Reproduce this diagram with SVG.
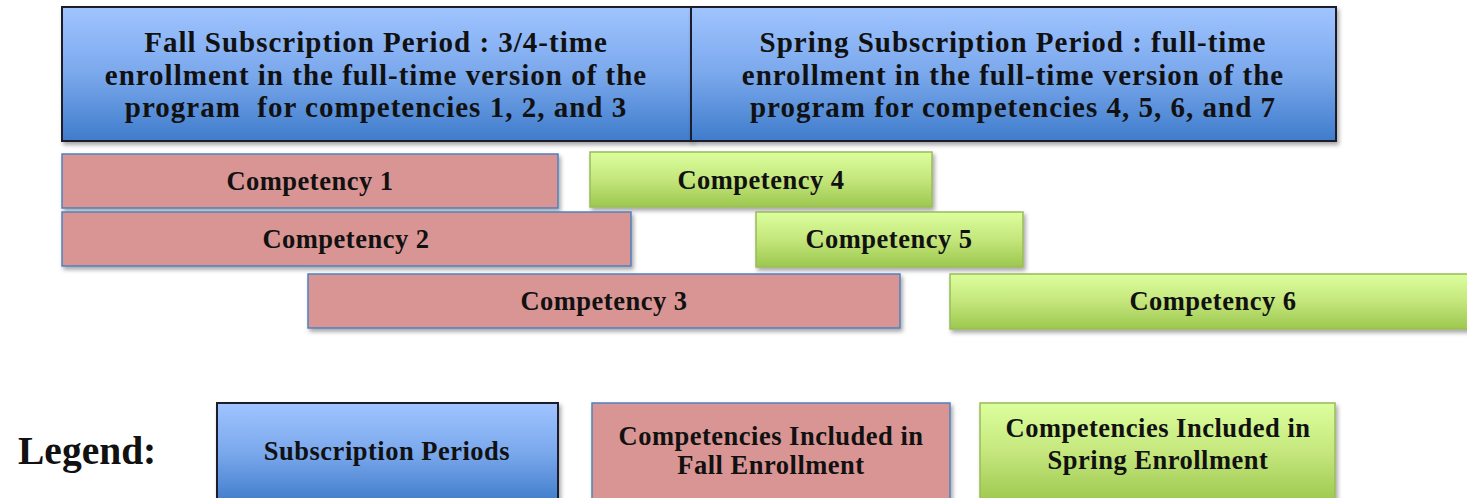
<svg xmlns="http://www.w3.org/2000/svg" width="1467" height="498" viewBox="0 0 1467 498">
<defs>
<linearGradient id="gBlue" x1="0" y1="0" x2="0" y2="1">
<stop offset="0" stop-color="#a0c4ff"/>
<stop offset="0.5" stop-color="#7aa8ec"/>
<stop offset="1" stop-color="#3f7ccb"/>
</linearGradient>
<linearGradient id="gGreen" x1="0" y1="0" x2="0" y2="1">
<stop offset="0" stop-color="#dcff9e"/>
<stop offset="0.5" stop-color="#c4e67c"/>
<stop offset="1" stop-color="#9cc84e"/>
</linearGradient>
<filter id="sh" x="-5%" y="-20%" width="110%" height="150%">
<feDropShadow dx="2" dy="3" stdDeviation="2" flood-color="#000" flood-opacity="0.35"/>
</filter>
<style>
.period{fill:url(#gBlue);stroke:#1b1e2b;stroke-width:2;filter:url(#sh)}
.fall{fill:#d99594;stroke:#4f81bd;stroke-width:1.5;filter:url(#sh)}
.spring{fill:url(#gGreen);stroke:#9bbb59;stroke-width:1.5;filter:url(#sh)}
text{font-family:"Liberation Serif","DejaVu Serif",serif;font-weight:bold;fill:#111;text-anchor:middle}
.t26{font-size:29px;letter-spacing:1px}
.t24{font-size:26.5px;letter-spacing:0.5px}
.leg{font-size:39.5px;text-anchor:start}
</style>
</defs>
<g id="fall-period">
<rect class="period" x="62" y="7" width="629" height="134"/>
<text class="t26" x="376" y="52">Fall Subscription Period : 3/4-time</text>
<text class="t26" x="376" y="85">enrollment in the full-time version of the</text>
<text class="t26" x="376" y="117" xml:space="preserve">program  for competencies 1, 2, and 3</text>
</g>
<g id="spring-period">
<rect class="period" x="691" y="7" width="645" height="134"/>
<text class="t26" x="1013" y="52">Spring Subscription Period : full-time</text>
<text class="t26" x="1013" y="85">enrollment in the full-time version of the</text>
<text class="t26" x="1013" y="117">program for competencies 4, 5, 6, and 7</text>
</g>
<g id="competency-1">
<rect class="fall" x="62" y="154" width="496" height="54"/>
<text class="t24" x="310" y="190">Competency 1</text>
</g>
<g id="competency-4">
<rect class="spring" x="590" y="152" width="342" height="55"/>
<text class="t24" x="761" y="189">Competency 4</text>
</g>
<g id="competency-2">
<rect class="fall" x="62" y="212" width="569" height="54"/>
<text class="t24" x="346" y="248">Competency 2</text>
</g>
<g id="competency-5">
<rect class="spring" x="756" y="212" width="267" height="55"/>
<text class="t24" x="889" y="248">Competency 5</text>
</g>
<g id="competency-3">
<rect class="fall" x="308" y="274" width="592" height="54"/>
<text class="t24" x="604" y="310">Competency 3</text>
</g>
<g id="competency-6">
<rect class="spring" x="950" y="274" width="530" height="55"/>
<text class="t24" x="1213" y="310">Competency 6</text>
</g>
<g id="connectors"></g>
<g id="legend">
<text class="leg" x="18" y="464">Legend:</text>
<g id="legend-periods">
<rect class="period" x="217" y="403" width="341" height="100"/>
<text class="t24" x="387" y="460">Subscription Periods</text>
</g>
<g id="legend-fall">
<rect class="fall" x="592" y="403" width="358" height="100"/>
<text class="t24" x="771" y="445">Competencies Included in</text>
<text class="t24" x="771" y="474">Fall Enrollment</text>
</g>
<g id="legend-spring">
<rect class="spring" x="980" y="403" width="355" height="100"/>
<text class="t24" x="1158" y="437">Competencies Included in</text>
<text class="t24" x="1158" y="469">Spring Enrollment</text>
</g>
</g>
</svg>
